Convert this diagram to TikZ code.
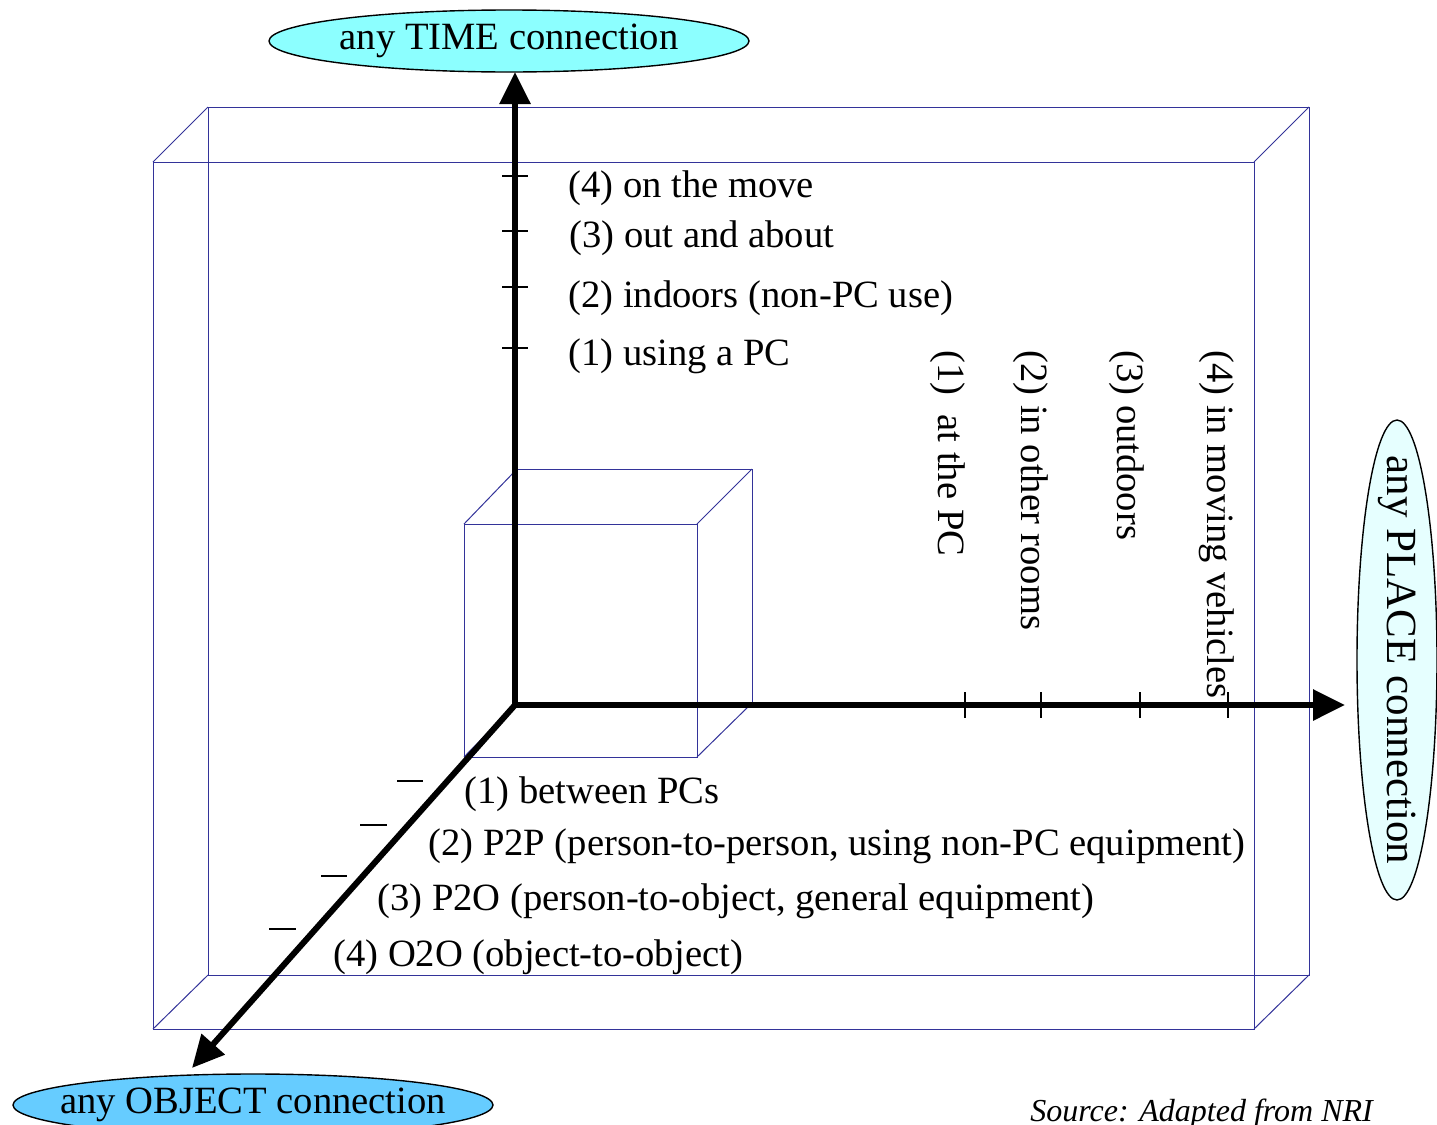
\documentclass[tikz,border=0pt]{standalone}
\usepackage{fontspec}
\setmainfont{Liberation Serif}
\usetikzlibrary{arrows.meta,shapes.geometric}
\definecolor{boxblue}{RGB}{51,51,153}
\definecolor{timecyan}{RGB}{140,255,255}
\definecolor{objblue}{RGB}{102,204,255}
\definecolor{placecyan}{RGB}{230,255,255}
\tikzset{
  frame/.style={boxblue, line width=.5pt},
  axis/.style={line width=3pt, line cap=rect, -{Triangle[length=16pt,width=15pt]}},
  tick/.style={line width=.8pt},
  lbl/.style={anchor=west, inner sep=0pt, font=\fontsize{19.3}{23}\selectfont},
  oval/.style={ellipse, draw, line width=.7pt, inner ysep=0pt, inner xsep=-20pt, minimum width=240pt, minimum height=31pt, font=\fontsize{19.3}{23}\selectfont}
}
\begin{document}
\begin{tikzpicture}[x=.5pt, y=-.5pt]
    \useasboundingbox (0,0) rectangle (1437,1125);
    % outer box
    \draw[frame] (208,107) rectangle (1309,975);
    \draw[frame] (153,162) rectangle (1254,1029);
    \draw[frame] (153,162) -- (208,107);
    \draw[frame] (1254,162) -- (1309,107);
    \draw[frame] (1254,1029) -- (1309,975);
    \draw[frame] (153,1029) -- (208,975);
    % small cube
    \draw[frame] (517,469) rectangle (752,703);
    \draw[frame] (464,524) rectangle (697,757);
    \draw[frame] (464,524) -- (517,469);
    \draw[frame] (697,524) -- (752,469);
    \draw[frame] (697,757) -- (752,703);
    \draw[frame] (464,757) -- (517,703);
    % ends of the axes
    \node[oval, fill=timecyan] (time) at (509,41) {any TIME connection};
    \node[oval, fill=objblue] (object) at (253,1105) {any OBJECT connection};
    \node[oval, fill=placecyan, rotate=-90, inner xsep=-26pt, minimum height=40pt, font=\fontsize{21.5}{25}\selectfont] (place) at (1397,660) {any PLACE connection};
    \coordinate (o) at (515,705);
    \coordinate (ttip) at (515,72);
    \coordinate (ptip) at (1345,705);
    \coordinate (otip) at (192,1068);
    \draw[axis] (o) -- (ttip);
    \draw[axis] (o) -- (ptip);
    \draw[axis] (o) -- (otip);
    % ticks
    \foreach \y in {176,231,287,348} \draw[tick] (502,\y) -- (528,\y);
    \foreach \x in {965,1041,1140,1228} \draw[tick] (\x,692) -- (\x,718);
    \draw[tick] (397,781) -- (423,781);
    \draw[tick] (360,825) -- (387,825);
    \draw[tick] (321,876) -- (347,876);
    \draw[tick] (269,929) -- (296,929);
    % time labels
    \node[lbl] (t4) at (568,188) {(4) on the move};
    \node[lbl] (t3) at (569,238) {(3) out and about};
    \node[lbl] (t2) at (568,298) {(2) indoors (non-PC use)};
    \node[lbl] (t1) at (568,356) {(1) using a PC};
    % place labels
    \node[lbl, rotate=-90] (p1) at (948,350) {(1)\ \ at the PC};
    \node[lbl, rotate=-90] (p2) at (1031,350) {(2) in other rooms};
    \node[lbl, rotate=-90] (p3) at (1127,350) {(3) outdoors};
    \node[lbl, rotate=-90] (p4) at (1217,350) {(4) in moving vehicles};
    % object labels
    \node[lbl] (o1) at (464,794) {(1) between PCs};
    \node[lbl] (o2) at (428,846) {(2) P2P (person-to-person, using non-PC equipment)};
    \node[lbl] (o3) at (377,901) {(3) P2O (person-to-object, general equipment)};
    \node[lbl] (o4) at (333,957) {(4) O2O (object-to-object)};
    \node[lbl, font=\fontsize{16}{19}\selectfont\itshape] (src) at (1030,1114) {Source: Adapted from NRI};
\end{tikzpicture}
\end{document}
